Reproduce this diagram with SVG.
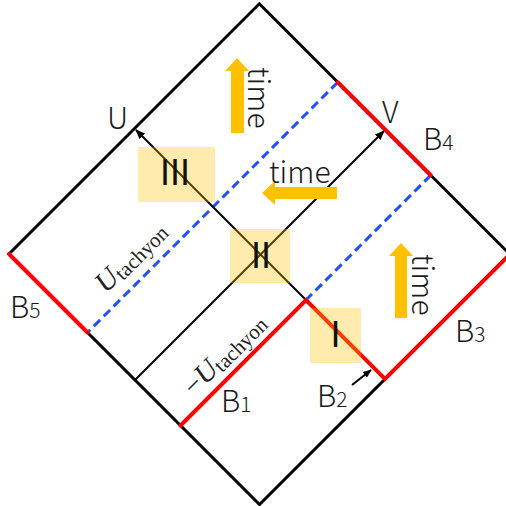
<svg xmlns="http://www.w3.org/2000/svg" width="506" height="506" viewBox="0 0 506 506">
  <defs>
    <marker id="ah" viewBox="0 0 10 8" refX="9" refY="4" markerWidth="10" markerHeight="8" orient="auto" markerUnits="userSpaceOnUse">
      <path d="M0,0 L10,4 L0,8 Z" fill="#000"/>
    </marker>
    <marker id="ahs" viewBox="0 0 10 8" refX="9" refY="4" markerWidth="9" markerHeight="7" orient="auto" markerUnits="userSpaceOnUse">
      <path d="M0,0 L10,4 L0,8 Z" fill="#000"/>
    </marker>
  </defs>
  <style>
    .edge { stroke: #000; stroke-width: 3; fill: none; stroke-linecap: round; stroke-linejoin: miter; }
    .red { stroke: #ff0000; stroke-width: 4; fill: none; stroke-linecap: round; }
    .dash { stroke: #1f4fff; stroke-width: 3; fill: none; stroke-dasharray: 9 5; }
    .axis { stroke: #000; stroke-width: 2; fill: none; }
    .box { fill: #ffc000; fill-opacity: 0.32; }
    .lbl { font-family: "Noto Sans CJK JP", "Noto Sans", sans-serif; font-size: 30px; font-weight: 300; fill: #1a1a1a; }
    .sub { font-size: 21px; }
    .num { font-family: "Liberation Sans", "DejaVu Sans", sans-serif; font-size: 36px; fill: #111; text-anchor: middle; }
    .tach { font-family: "Liberation Serif", serif; fill: #222; }
    .arrowO { fill: #ffc000; }
  </style>

  <g id="diamond">
    <polygon class="edge" points="259.3,3.8 509.8,254.3 259.5,504.5 9,254"/>
  </g>

  <g id="connectors">
    <!-- tachyon dashed lines -->
    <line class="dash" x1="337.75" y1="82.25" x2="87.5" y2="332.5"/>
    <line class="dash" x1="430.75" y1="175.25" x2="306" y2="300"/>
    <!-- axes -->
    <line class="axis" x1="306" y1="300" x2="136" y2="130" marker-end="url(#ah)"/>
    <line class="axis" x1="135" y1="380" x2="384" y2="131" marker-end="url(#ah)"/>
    <!-- B2 pointer -->
    <line class="axis" x1="352" y1="385" x2="371" y2="370" stroke-width="1.6" marker-end="url(#ahs)"/>
    <!-- red boundaries -->
    <line class="red" x1="337.75" y1="82.25" x2="430.75" y2="175.25"/>
    <line class="red" x1="9" y1="254" x2="87.5" y2="332.5"/>
    <polyline class="red" points="180.5,425.5 306,300 385,379 509.8,254.3" stroke-linejoin="miter"/>
  </g>

  <g id="region-III">
    <rect class="box" x="138" y="147" width="77" height="55"/>
    <text class="num" x="175" y="185">III</text>
  </g>
  <g id="region-II">
    <rect class="box" x="230" y="229" width="60" height="54"/>
    <text class="num" x="261" y="268">II</text>
  </g>
  <g id="region-I">
    <rect class="box" x="310" y="308" width="51" height="55"/>
    <text class="num" x="335.5" y="347">I</text>
  </g>

  <g id="time-arrows">
    <polygon class="arrowO" points="231,133 231,71 225,71 237,58 249,71 244,71 244,133"/>
    <text class="lbl" transform="translate(248,67) rotate(90)">time</text>
    <polygon class="arrowO" points="337,187 275,187 275,181 262,193 275,205 275,199 337,199"/>
    <text class="lbl" x="269" y="183">time</text>
    <polygon class="arrowO" points="395,318 395,256 389,256 401,243 413,256 407,256 407,318"/>
    <text class="lbl" transform="translate(412,254) rotate(90)">time</text>
  </g>

  <g id="labels">
    <text class="lbl" x="107" y="129">U</text>
    <text class="lbl" x="382" y="123">V</text>
    <text class="lbl" x="423" y="150">B<tspan class="sub">4</tspan></text>
    <text class="lbl" x="10" y="318">B<tspan class="sub">5</tspan></text>
    <text class="lbl" x="455" y="342">B<tspan class="sub">3</tspan></text>
    <text class="lbl" x="221" y="412">B<tspan class="sub">1</tspan></text>
    <text class="lbl" x="317" y="407">B<tspan class="sub">2</tspan></text>
    <text class="tach" transform="translate(106,294) rotate(-45)"><tspan font-style="italic" font-size="29">U</tspan><tspan font-size="21" dy="3">tachyon</tspan></text>
    <text class="tach" transform="translate(194,397) rotate(-45)"><tspan font-size="28">−</tspan><tspan font-style="italic" font-size="29">U</tspan><tspan font-size="21" dy="3">tachyon</tspan></text>
  </g>
</svg>
